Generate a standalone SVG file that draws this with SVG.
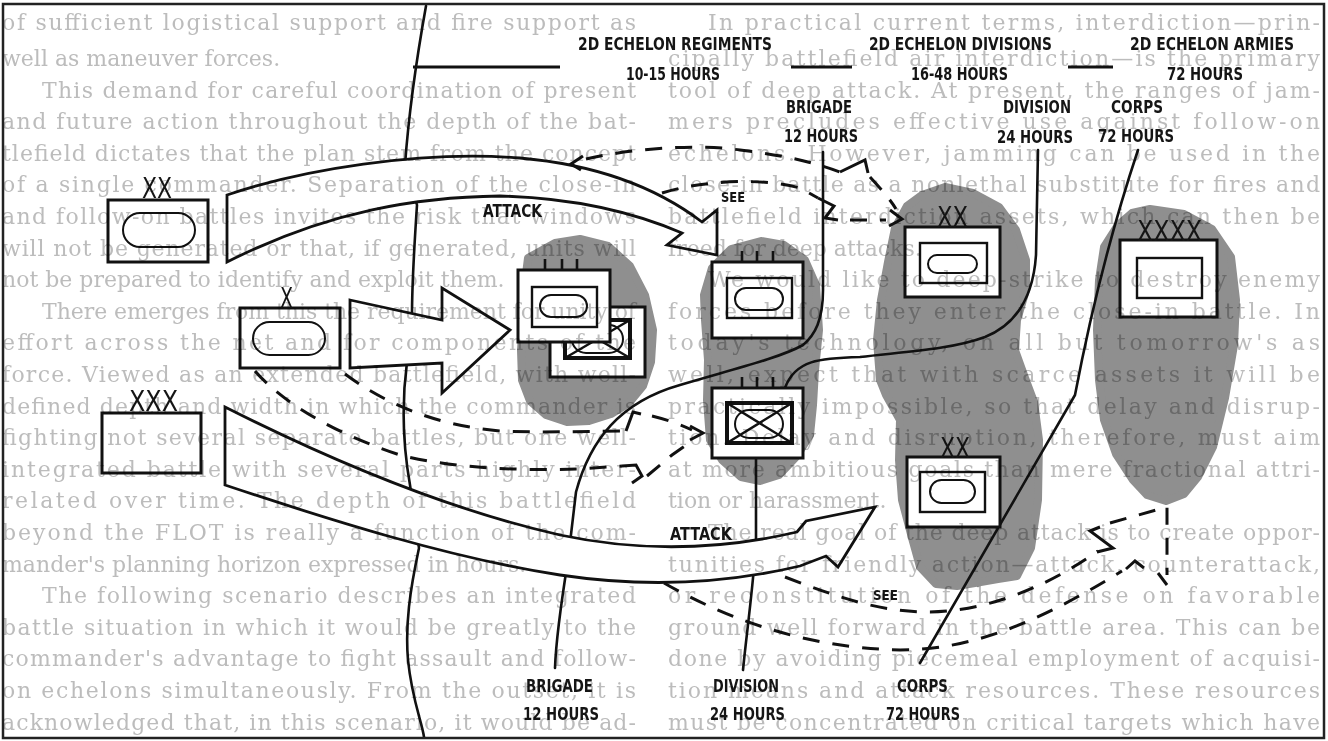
<svg xmlns="http://www.w3.org/2000/svg" width="1328" height="741" viewBox="0 0 1328 741">
<defs>
<style>
.blob{fill:#8f8f8f;stroke:#8f8f8f;stroke-width:8;stroke-linejoin:round}
.ln{fill:none;stroke:#111;stroke-width:2.6;stroke-linecap:round;stroke-linejoin:round}
.hd{fill:none;stroke:#111;stroke-width:3.2}
.bx{fill:#fff;stroke:#111;stroke-width:3}
.in{fill:none;stroke:#111;stroke-width:2.4}
.thk{fill:none;stroke:#111;stroke-width:4}
.ov{fill:none;stroke:#111;stroke-width:2}
.tk{stroke:#111;stroke-width:2.6}
.arr{fill:#fff;stroke:#111;stroke-width:2.8;stroke-linejoin:miter}
.dash{fill:none;stroke:#111;stroke-width:3;stroke-dasharray:17 13}
.zig{fill:none;stroke:#111;stroke-width:3;stroke-linejoin:miter}
.lbl{font-family:"Liberation Sans Narrow","DejaVu Sans Condensed","Liberation Sans",sans-serif;font-weight:bold;font-size:17px;fill:#151515}
.see{font-family:"Liberation Sans Narrow","DejaVu Sans Condensed","Liberation Sans",sans-serif;font-weight:bold;font-size:14px;fill:#151515}
.ech{font-family:"Liberation Sans Narrow","DejaVu Sans Condensed","Liberation Sans",sans-serif;font-size:28px;fill:#151515}
.bt{font-family:"DejaVu Serif","Liberation Serif",serif;font-size:22px;fill:#bcbcbc}
</style>
<clipPath id="frameclip"><rect x="4" y="5" width="1319" height="732"/></clipPath>
</defs>
<rect x="0" y="0" width="1328" height="741" fill="#fff"/>

<g id="areas">
<path class="blob" d="M528,258 L555,243 L580,239 L608,246 L630,266 L645,295 L653,330 L651,362 L643,386 L629,403 L611,414 L589,421 L567,422 L546,415 L530,401 L522,380 L521,350 L523,320 L524,290 Z"/>
<path class="blob" d="M761,241 L784,245 L805,260 L816,285 L819,330 L815,370 L813,405 L810,435 L797,456 L779,475 L760,481 L741,477 L722,460 L710,440 L707,400 L708,360 L705,320 L704,295 L712,268 L731,249 Z"/>
<path class="blob" d="M945,187 L973,193 L999,207 L1016,230 L1026,260 L1026,290 L1017,320 L1015,350 L1024,375 L1034,402 L1039,440 L1038,500 L1031,548 L1017,576 L998,579 L975,583 L957,586 L936,584 L920,567 L912,538 L902,500 L899,460 L900,420 L886,395 L880,380 L877,340 L881,300 L888,262 L895,228 L907,206 L922,195 Z"/>
<path class="blob" d="M1150,209 L1184,214 L1212,229 L1231,257 L1236,300 L1234,345 L1225,398 L1213,447 L1198,477 L1184,494 L1166,501 L1147,495 L1133,480 L1116,454 L1104,420 L1099,380 L1097,330 L1099,280 L1104,247 L1118,225 L1132,213 Z"/>
</g>

<g id="connectors">
<path class="ln" d="M426,6 C419,45 409,110 405,165 L417,205 C414,250 412,285 412,315 L407,362 C402,400 402,440 410,485 L419,548 C410,590 405,625 408,660 C412,700 422,722 424,737"/>
<path class="hd" d="M413,67 L560,67 M791,67 L852,67 M1068,67 L1113,67"/>
<path class="ln" d="M823,152 L823,290 C823,320 815,335 803,345 C780,358 730,370 680,385 C620,402 590,440 576,492 L568,560 C560,610 556,640 555,668"/>
<path class="ln" d="M1038,150 L1036,255 C1033,300 1015,325 985,337 C950,350 900,352 860,357 C820,358 795,360 785,388"/>
<path class="ln" d="M756,458 L756,545 L753,578 C750,610 746,640 743,670"/>
<path class="ln" d="M1138,150 C1118,210 1095,290 1075,395 L920,663"/>

<path id="attack-upper" class="arr" d="M227,195 C300,170 420,150 520,158 C600,165 660,190 702,222 L717,210 L717,255 L667,245 L682,233 C640,215 580,198 500,196 C420,197 330,210 227,262 Z"/>
<path id="attack-mid" class="arr" d="M350,300 L442,320 L442,288 L510,330 L442,393 L442,363 L350,368 Z"/>
<path id="attack-lower" class="arr" d="M225,407 C330,460 450,510 560,535 C640,552 720,550 797,532 L806,521 L875,507 L838,567 L826,556 L800,566 C720,585 640,587 560,575 C450,558 330,520 225,485 Z"/>

<g id="see-lines">
<path class="zig" d="M583,156 L571,164 L581,170"/>
<path class="dash" d="M586,159 C625,150 690,143 740,150 C790,156 815,163 840,172"/>
<path class="zig" d="M840,172 L865,160 L868,173"/>
<path class="dash" d="M870,177 C880,188 890,199 896,209"/>
<path class="dash" d="M662,193 C700,181 760,177 800,188 L818,198"/>
<path class="zig" d="M818,198 L834,206 L825,218 L838,220"/>
<path class="dash" d="M850,220 L886,220"/>
<path class="zig" d="M890,210 L902,219 L889,226"/>

<path class="dash" d="M345,374 C380,400 430,425 500,431 C550,433 600,431 626,431"/>
<path class="zig" d="M626,431 L633,412 L641,414"/>
<path class="dash" d="M652,416 C668,420 682,425 692,430"/>
<path class="zig" d="M690,426 L703,433 L690,440"/>

<path class="dash" d="M255,371 C280,400 330,432 400,455 C450,468 520,471 580,469 L622,466"/>
<path class="zig" d="M622,466 L636,465 L642,476 L632,483"/>
<path class="dash" d="M647,476 L672,455 L692,441"/>

<path class="dash" d="M785,577 C840,598 880,612 930,612 C990,611 1050,585 1098,551"/>
<path class="zig" d="M1097,552 L1113,548 L1090,531 L1100,527"/>
<path class="dash" d="M1110,523 L1167,507 L1167,575"/>
<path class="zig" d="M1158,573 L1167,585"/>

<path class="dash" d="M664,583 C720,615 800,648 900,650 C980,650 1050,615 1122,571"/>
<path class="zig" d="M1126,569 L1135,561 L1144,568"/>
</g>
</g>

<g id="unit-xx-left">
<rect class="bx" x="108" y="200" width="100" height="62"/>
<rect class="ov" x="123" y="213" width="72" height="34" rx="17"/>
<text class="ech" x="142" y="198" textLength="30" lengthAdjust="spacingAndGlyphs">XX</text>
</g>
<g id="unit-x">
<rect class="bx" x="240" y="308" width="100" height="60"/>
<rect class="ov" x="253" y="322" width="72" height="33" rx="16.5"/>
<text class="ech" x="280" y="308" textLength="13" lengthAdjust="spacingAndGlyphs">X</text>
</g>
<g id="unit-xxx">
<rect class="bx" x="102" y="413" width="99" height="60"/>
<text class="ech" x="129" y="411" textLength="49" lengthAdjust="spacingAndGlyphs">XXX</text>
</g>

<g id="unit-brigade-1b">
<rect class="bx" x="550" y="307" width="95" height="70"/>
<rect class="thk" x="565" y="320" width="65" height="38"/>
<path class="in" d="M565,320 L630,358 M630,320 L565,358"/>
<rect class="ov" x="572" y="325" width="51" height="28" rx="14"/>
</g>
<g id="unit-brigade-1">
<rect class="bx" x="518" y="270" width="92" height="72"/>
<rect class="in" x="532" y="287" width="65" height="40"/>
<rect class="ov" x="540" y="295" width="47" height="22" rx="11"/>
<path class="tk" d="M545,259 L545,270 M562,259 L562,270 M577,259 L577,270"/>
</g>
<g id="unit-brigade-2">
<rect class="bx" x="712" y="262" width="91" height="76"/>
<rect class="in" x="727" y="278" width="65" height="40"/>
<rect class="ov" x="735" y="288" width="48" height="22" rx="11"/>
<path class="tk" d="M742,251 L742,262 M757,251 L757,262 M773,251 L773,262"/>
</g>
<g id="unit-brigade-3">
<rect class="bx" x="712" y="388" width="91" height="70"/>
<rect class="thk" x="727" y="403" width="65" height="40"/>
<path class="in" d="M727,403 L792,443 M792,403 L727,443"/>
<rect class="ov" x="735" y="410" width="48" height="28" rx="14"/>
<path class="tk" d="M742,377 L742,388 M757,377 L757,388 M773,377 L773,388"/>
</g>
<g id="unit-xx-top">
<rect class="bx" x="905" y="227" width="95" height="70"/>
<rect class="in" x="920" y="243" width="67" height="40"/>
<rect class="ov" x="928" y="255" width="49" height="18" rx="9"/>
<text class="ech" x="937" y="227" textLength="31" lengthAdjust="spacingAndGlyphs">XX</text>
</g>
<g id="unit-xxxx">
<rect class="bx" x="1120" y="240" width="97" height="77"/>
<rect class="in" x="1137" y="258" width="65" height="40"/>
<text class="ech" x="1137" y="241" textLength="65" lengthAdjust="spacingAndGlyphs">XXXX</text>
</g>
<g id="unit-xx-bottom">
<rect class="bx" x="907" y="457" width="93" height="70"/>
<rect class="in" x="920" y="472" width="65" height="40"/>
<rect class="ov" x="930" y="480" width="45" height="23" rx="11.5"/>
<text class="ech" x="940" y="458" textLength="30" lengthAdjust="spacingAndGlyphs">XX</text>
</g>

<g id="labels">
<text class="lbl" x="578" y="50" textLength="194" lengthAdjust="spacingAndGlyphs">2D ECHELON REGIMENTS</text>
<text class="lbl" x="626" y="80" textLength="94" lengthAdjust="spacingAndGlyphs">10-15 HOURS</text>
<text class="lbl" x="869" y="50" textLength="183" lengthAdjust="spacingAndGlyphs">2D ECHELON DIVISIONS</text>
<text class="lbl" x="911" y="80" textLength="97" lengthAdjust="spacingAndGlyphs">16-48 HOURS</text>
<text class="lbl" x="1130" y="50" textLength="164" lengthAdjust="spacingAndGlyphs">2D ECHELON ARMIES</text>
<text class="lbl" x="1167" y="80" textLength="76" lengthAdjust="spacingAndGlyphs">72 HOURS</text>
<text class="lbl" x="786" y="113" textLength="66" lengthAdjust="spacingAndGlyphs">BRIGADE</text>
<text class="lbl" x="784" y="142" textLength="74" lengthAdjust="spacingAndGlyphs">12 HOURS</text>
<text class="lbl" x="1003" y="113" textLength="68" lengthAdjust="spacingAndGlyphs">DIVISION</text>
<text class="lbl" x="997" y="143" textLength="76" lengthAdjust="spacingAndGlyphs">24 HOURS</text>
<text class="lbl" x="1111" y="113" textLength="52" lengthAdjust="spacingAndGlyphs">CORPS</text>
<text class="lbl" x="1098" y="142" textLength="76" lengthAdjust="spacingAndGlyphs">72 HOURS</text>
<text class="lbl" x="526" y="692" textLength="67" lengthAdjust="spacingAndGlyphs">BRIGADE</text>
<text class="lbl" x="523" y="720" textLength="76" lengthAdjust="spacingAndGlyphs">12 HOURS</text>
<text class="lbl" x="713" y="692" textLength="66" lengthAdjust="spacingAndGlyphs">DIVISION</text>
<text class="lbl" x="710" y="720" textLength="75" lengthAdjust="spacingAndGlyphs">24 HOURS</text>
<text class="lbl" x="897" y="692" textLength="51" lengthAdjust="spacingAndGlyphs">CORPS</text>
<text class="lbl" x="886" y="720" textLength="74" lengthAdjust="spacingAndGlyphs">72 HOURS</text>
<text class="lbl" x="483" y="217" textLength="59" lengthAdjust="spacingAndGlyphs">ATTACK</text>
<text class="lbl" x="670" y="540" textLength="62" lengthAdjust="spacingAndGlyphs">ATTACK</text>
<text class="see" x="721" y="202" textLength="24" lengthAdjust="spacingAndGlyphs">SEE</text>
<text class="see" x="873" y="600" textLength="25" lengthAdjust="spacingAndGlyphs">SEE</text>
</g>

<g id="show-through" class="bt" clip-path="url(#frameclip)" style="mix-blend-mode:multiply">
<text x="2" y="30" textLength="634" lengthAdjust="spacing">of sufficient logistical support and fire support as</text>
<text x="2" y="66">well as maneuver forces.</text>
<text x="42" y="97.6" textLength="594" lengthAdjust="spacing">This demand for careful coordination of present</text>
<text x="2" y="129.2" textLength="634" lengthAdjust="spacing">and future action throughout the depth of the bat-</text>
<text x="2" y="160.8" textLength="634" lengthAdjust="spacing">tlefield dictates that the plan stem from the concept</text>
<text x="2" y="192.4" textLength="634" lengthAdjust="spacing">of a single commander. Separation of the close-in</text>
<text x="2" y="224" textLength="634" lengthAdjust="spacing">and follow-on battles invites the risk that windows</text>
<text x="2" y="255.6" textLength="634" lengthAdjust="spacing">will not be generated or that, if generated, units will</text>
<text x="2" y="287.2">not be prepared to identify and exploit them.</text>
<text x="42" y="318.8" textLength="594" lengthAdjust="spacing">There emerges from this the requirement for unity of</text>
<text x="2" y="350.4" textLength="634" lengthAdjust="spacing">effort across the net and for components of the</text>
<text x="2" y="382" textLength="634" lengthAdjust="spacing">force. Viewed as an extended battlefield, with well-</text>
<text x="2" y="413.6" textLength="634" lengthAdjust="spacing">defined depth and width in which the commander is</text>
<text x="2" y="445.2" textLength="634" lengthAdjust="spacing">fighting not several separate battles, but one well-</text>
<text x="2" y="476.8" textLength="634" lengthAdjust="spacing">integrated battle with several parts highly inter-</text>
<text x="2" y="508.4" textLength="634" lengthAdjust="spacing">related over time. The depth of this battlefield</text>
<text x="2" y="540" textLength="634" lengthAdjust="spacing">beyond the FLOT is really a function of the com-</text>
<text x="2" y="571.6">mander's planning horizon expressed in hours.</text>
<text x="42" y="603.2" textLength="594" lengthAdjust="spacing">The following scenario describes an integrated</text>
<text x="2" y="634.8" textLength="634" lengthAdjust="spacing">battle situation in which it would be greatly to the</text>
<text x="2" y="666.4" textLength="634" lengthAdjust="spacing">commander's advantage to fight assault and follow-</text>
<text x="2" y="698" textLength="634" lengthAdjust="spacing">on echelons simultaneously. From the outset, it is</text>
<text x="2" y="729.6" textLength="634" lengthAdjust="spacing">acknowledged that, in this scenario, it would be ad-</text>

<text x="708" y="30" textLength="612" lengthAdjust="spacing">In practical current terms, interdiction—prin-</text>
<text x="668" y="66" textLength="652" lengthAdjust="spacing">cipally battlefield air interdiction—is the primary</text>
<text x="668" y="97.6" textLength="652" lengthAdjust="spacing">tool of deep attack. At present, the ranges of jam-</text>
<text x="668" y="129.2" textLength="652" lengthAdjust="spacing">mers precludes effective use against follow-on</text>
<text x="668" y="160.8" textLength="652" lengthAdjust="spacing">echelons. However, jamming can be used in the</text>
<text x="668" y="192.4" textLength="652" lengthAdjust="spacing">close-in battle as a nonlethal substitute for fires and</text>
<text x="668" y="224" textLength="652" lengthAdjust="spacing">battlefield interdiction assets, which can then be</text>
<text x="668" y="255.6">freed for deep attacks.</text>
<text x="708" y="287.2" textLength="612" lengthAdjust="spacing">We would like to deep-strike to destroy enemy</text>
<text x="668" y="318.8" textLength="652" lengthAdjust="spacing">forces before they enter the close-in battle. In</text>
<text x="668" y="350.4" textLength="652" lengthAdjust="spacing">today's technology, on all but tomorrow's as</text>
<text x="668" y="382" textLength="652" lengthAdjust="spacing">well, expect that with scarce assets it will be</text>
<text x="668" y="413.6" textLength="652" lengthAdjust="spacing">practically impossible, so that delay and disrup-</text>
<text x="668" y="445.2" textLength="652" lengthAdjust="spacing">tion. Delay and disruption, therefore, must aim</text>
<text x="668" y="476.8" textLength="652" lengthAdjust="spacing">at more ambitious goals than mere fractional attri-</text>
<text x="668" y="508.4">tion or harassment.</text>
<text x="708" y="540" textLength="612" lengthAdjust="spacing">The real goal of the deep attack is to create oppor-</text>
<text x="668" y="571.6" textLength="652" lengthAdjust="spacing">tunities for friendly action—attack, counterattack,</text>
<text x="668" y="603.2" textLength="652" lengthAdjust="spacing">or reconstitution of the defense on favorable</text>
<text x="668" y="634.8" textLength="652" lengthAdjust="spacing">ground well forward in the battle area. This can be</text>
<text x="668" y="666.4" textLength="652" lengthAdjust="spacing">done by avoiding piecemeal employment of acquisi-</text>
<text x="668" y="698" textLength="652" lengthAdjust="spacing">tion means and attack resources. These resources</text>
<text x="668" y="729.6" textLength="652" lengthAdjust="spacing">must be concentrated on critical targets which have</text>
</g>

<rect id="frame" x="3" y="4" width="1321" height="734" fill="none" stroke="#222" stroke-width="2.5"/>
</svg>
